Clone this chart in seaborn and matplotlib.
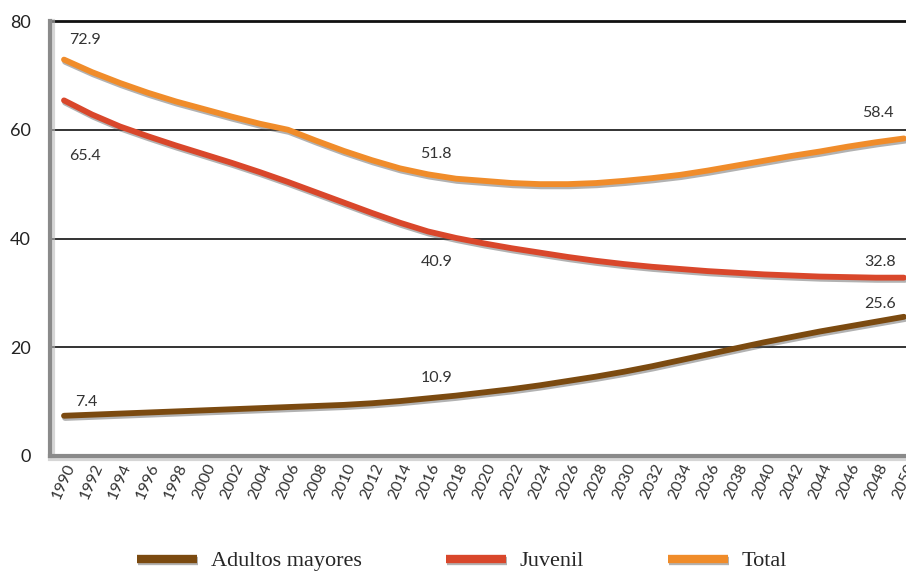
import numpy as np
import pandas as pd
import matplotlib
matplotlib.use("Agg")
import matplotlib.pyplot as plt
import matplotlib.patheffects as pe
from matplotlib.lines import Line2D
import seaborn as sns

# ---- data ----
years = list(range(1990, 2051, 2))
total = [72.9, 70.6, 68.6, 66.8, 65.2, 63.8, 62.4, 61.1, 60.0, 58.0,
         56.1, 54.4, 52.9, 51.8, 51.0, 50.6, 50.2, 50.0, 50.0, 50.2,
         50.6, 51.1, 51.7, 52.5, 53.4, 54.3, 55.2, 56.0, 56.9, 57.7, 58.4]
juvenil = [65.4, 62.8, 60.6, 58.8, 57.1, 55.5, 53.9, 52.2, 50.4, 48.5,
           46.6, 44.7, 42.9, 41.3, 40.1, 39.1, 38.2, 37.4, 36.6, 35.9,
           35.3, 34.8, 34.4, 34.0, 33.7, 33.4, 33.2, 33.0, 32.9, 32.8, 32.8]
adultos = [7.4, 7.6, 7.8, 8.0, 8.2, 8.4, 8.6, 8.8, 9.0, 9.2,
           9.4, 9.7, 10.1, 10.6, 11.1, 11.7, 12.3, 13.0, 13.8, 14.6,
           15.5, 16.5, 17.6, 18.7, 19.8, 20.9, 21.9, 22.9, 23.8, 24.7, 25.6]
series_names = ["Adultos mayores", "Juvenil", "Total"]
colors = ["#7B4A10", "#D9472B", "#F08C2A"]
label_years = [1990, 2016, 2050]
label_total = ["72.9", "51.8", "58.4"]
label_juvenil = ["65.4", "40.9", "32.8"]
label_adultos = ["7.4", "10.9", "25.6"]
y_ticks = [0, 20, 40, 60, 80]

df = pd.DataFrame({
    "year": years * 3,
    "value": adultos + juvenil + total,
    "serie": [series_names[0]] * len(years) + [series_names[1]] * len(years)
             + [series_names[2]] * len(years),
})

sns.set_theme(style="white")
plt.rcParams["font.family"] = ["Lato", "DejaVu Sans"]

fig = plt.figure(figsize=(9.06, 5.77), dpi=100)
ax = fig.add_axes([50 / 906, 1 - 456 / 577, 1 - 50 / 906, (456 - 21) / 577])

sns.lineplot(data=df, x="year", y="value", hue="serie", hue_order=series_names,
             palette=colors, linewidth=4.2, ax=ax, legend=False, sort=False)
for ln in ax.get_lines():
    ln.set_path_effects([pe.SimpleLineShadow(offset=(0.8, -1.6), shadow_color="#555555", alpha=0.45),
                         pe.Normal()])
    ln.set_solid_capstyle("round")

ax.set_xlim(1989.0, 2050.15)
ax.set_ylim(0, 80)
ax.set_yticks(y_ticks)
ax.set_yticklabels([str(v) for v in y_ticks], fontsize=13, color="#222222")
ax.set_xticks(years)
ax.set_xticklabels([str(y) for y in years], rotation=66, fontsize=11.5,
                   color="#333333", ha="center", va="top")
ax.set_xticks([y + 1 for y in years[:-1]], minor=True)
ax.tick_params(axis="x", which="major", length=0, pad=4)
ax.tick_params(axis="x", which="minor", direction="in", length=5, width=1, color="#444444")
ax.tick_params(axis="y", length=0, pad=14)
ax.set_xlabel("")
ax.set_ylabel("")

for v in [20, 40, 60]:
    ax.axhline(v, color="#111111", linewidth=1.2, zorder=1)
ax.axhline(80, color="#111111", linewidth=2.0, zorder=1, clip_on=False)

for s in ["top", "right"]:
    ax.spines[s].set_visible(False)
ax.spines["left"].set_color("#8a8a8a")
ax.spines["left"].set_linewidth(3)
ax.spines["bottom"].set_color("#8a8a8a")
ax.spines["bottom"].set_linewidth(3)
ax.spines["left"].set_path_effects([pe.SimpleLineShadow(offset=(2, 0), shadow_color="#bbbbbb", alpha=0.6), pe.Normal()])
ax.spines["bottom"].set_path_effects([pe.SimpleLineShadow(offset=(0, -2), shadow_color="#bbbbbb", alpha=0.6), pe.Normal()])

# ---- value labels ----
def lab(txt, x, y, dx, dy):
    ax.annotate(txt, xy=(x, y), xytext=(dx, dy), textcoords="offset points",
                ha="center", va="center", fontsize=11.5, color="#333333")

offsets_total = [(15, 14), (6, 15), (-19, 18)]
offsets_juv = [(15, -40), (6, -22), (-17, 11)]
offsets_adu = [(16, 10), (6, 15), (-17, 9)]
for k, yr in enumerate(label_years):
    i = years.index(yr)
    lab(label_total[k], yr, total[i], *offsets_total[k])
    lab(label_juvenil[k], yr, juvenil[i], *offsets_juv[k])
    lab(label_adultos[k], yr, adultos[i], *offsets_adu[k])

# ---- legend ----
handles = [Line2D([0], [0], color=c, linewidth=6, solid_capstyle="butt",
                  path_effects=[pe.SimpleLineShadow(offset=(0.8, -1.5), shadow_color="#555555", alpha=0.45), pe.Normal()])
           for c in colors]
fig.legend(handles, series_names, loc="lower center", bbox_to_anchor=(0.51, -0.025),
           ncol=3, frameon=False, handlelength=2.7, columnspacing=3.8, handletextpad=0.6,
           prop={"family": "Liberation Serif", "size": 16})

fig.savefig("out.png", dpi=100)
